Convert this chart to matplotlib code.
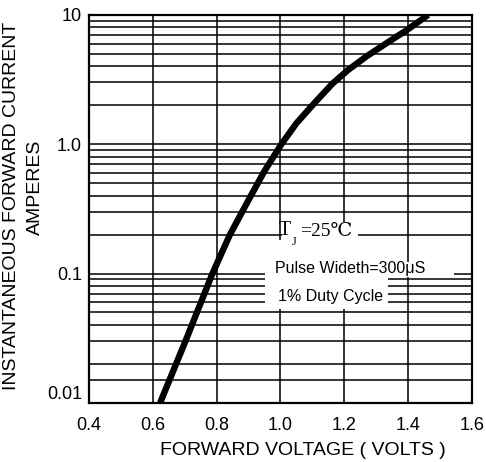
import matplotlib
matplotlib.use("Agg")
import matplotlib.pyplot as plt
from matplotlib.patches import Rectangle

# forward characteristic
VOLTAGE = [0.623, 0.700, 0.787, 0.841, 0.900, 0.950, 1.003, 1.050,
           1.108, 1.163, 1.212, 1.271, 1.335, 1.395, 1.463]
CURRENT = [0.01, 0.029, 0.1, 0.198, 0.37, 0.62, 1.0, 1.45,
           2.1, 2.94, 3.75, 4.8, 6.1, 7.6, 10]

X_TICKS = [0.4, 0.6, 0.8, 1.0, 1.2, 1.4, 1.6]
X_LABELS = ["0.4", "0.6", "0.8", "1.0", "1.2", "1.4", "1.6"]
Y_TICKS = [0.01, 0.1, 1.0, 10]
Y_LABELS = ["0.01", "0.1", "1.0", "10"]
# horizontal rulings of the log paper (includes the odd 0.015 line)
Y_GRID = [0.015, 0.02, 0.03, 0.04, 0.05, 0.06, 0.07, 0.08, 0.09,
          0.2, 0.3, 0.4, 0.5, 0.6, 0.7, 0.8, 0.9,
          2, 3, 4, 5, 6, 7, 8, 9]

SANS = ["Liberation Sans", "DejaVu Sans"]
SERIF = ["Liberation Serif", "DejaVu Serif", "DejaVu Sans"]

fig = plt.figure(figsize=(4.86, 4.62), dpi=100)
ax = fig.add_axes([0.183, 0.128, 0.788, 0.8398])

ax.set_yscale("log")
ax.set_xlim(0.4, 1.6)
ax.set_ylim(0.01, 10)

ax.set_xticks(X_TICKS)
ax.set_xticklabels(X_LABELS, family=SANS, fontsize=13)
ax.set_yticks(Y_TICKS)
ax.set_yticklabels(Y_LABELS, family=SANS, fontsize=13)
ax.set_yticks(Y_GRID, minor=True)
ax.yaxis.set_minor_formatter(plt.NullFormatter())
ax.tick_params(which="both", length=0)
ax.tick_params(axis="x", pad=10)
ax.tick_params(axis="y", pad=5)
for lab in ax.get_yticklabels():
    if lab.get_text() == "0.01":
        lab.set_va("bottom")

ax.grid(True, which="both", color="black", linewidth=1.1)
for s in ax.spines.values():
    s.set_linewidth(1.6)

# blank areas behind the annotation (rulings are interrupted there)
for (x0, x1, y0, y1) in [(1.005, 1.243, 0.1228, 0.251),
                         (0.951, 1.337, 0.0532, 0.183),
                         (1.337, 1.544, 0.0945, 0.1228)]:
    ax.add_patch(Rectangle((x0, y0), x1 - x0, y1 - y0, facecolor="white",
                           edgecolor="none", zorder=2))

ax.plot(VOLTAGE, CURRENT, color="black", linewidth=4.6, zorder=3,
        solid_capstyle="butt", solid_joinstyle="round")

ax.text(0.995, 0.215, "T", family=SERIF, fontsize=14.5, va="center", ha="left", zorder=4)
ax.text(1.037, 0.176, "J", family=SERIF, fontsize=9, va="center", ha="left", zorder=4)
ax.text(1.063, 0.21, "=25℃", family=SERIF, fontsize=14, va="center", ha="left", zorder=4)
ax.text(0.983, 0.1085, "Pulse Wideth=300μS", family=SANS, fontsize=11.5,
        va="center", ha="left", zorder=4)
ax.text(0.992, 0.0659, "1% Duty Cycle", family=SANS, fontsize=11.5,
        va="center", ha="left", zorder=4)

ax.set_xlabel("FORWARD VOLTAGE ( VOLTS )", family=SANS, fontsize=14)
ax.xaxis.set_label_coords(0.559, -0.1)

fig.text(12 / 486, 1 - 206 / 462, "INSTANTANEOUS FORWARD CURRENT", family=SANS,
         fontsize=14, rotation=90, ha="center", va="center")
fig.text(35 / 486, 1 - 187 / 462, "AMPERES", family=SANS, fontsize=14,
         rotation=90, ha="center", va="center")

fig.savefig("out.png", dpi=100)
